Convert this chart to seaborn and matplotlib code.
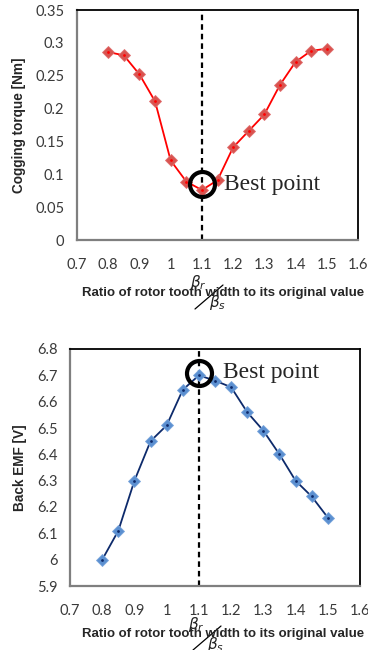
import matplotlib
matplotlib.use("Agg")
import matplotlib.pyplot as plt
import seaborn as sns
import pandas as pd
from matplotlib.lines import Line2D

ratio = [0.8, 0.85, 0.9, 0.95, 1.0, 1.05, 1.1, 1.15, 1.2, 1.25, 1.3, 1.35, 1.4, 1.45, 1.5]
cogging = [0.286, 0.281, 0.252, 0.211, 0.121, 0.089, 0.076, 0.091, 0.141, 0.166, 0.191, 0.236, 0.271, 0.288, 0.291]
emf = [6.00, 6.11, 6.30, 6.45, 6.51, 6.645, 6.70, 6.68, 6.655, 6.56, 6.49, 6.40, 6.30, 6.24, 6.16]
x_ticks = [0.7, 0.8, 0.9, 1.0, 1.1, 1.2, 1.3, 1.4, 1.5, 1.6]
x_tick_labels = ["0.7", "0.8", "0.9", "1", "1.1", "1.2", "1.3", "1.4", "1.5", "1.6"]
cog_ticks = [0, 0.05, 0.1, 0.15, 0.2, 0.25, 0.3, 0.35]
cog_tick_labels = ["0", "0.05", "0.1", "0.15", "0.2", "0.25", "0.3", "0.35"]
emf_ticks = [5.9, 6.0, 6.1, 6.2, 6.3, 6.4, 6.5, 6.6, 6.7, 6.8]
emf_tick_labels = ["5.9", "6", "6.1", "6.2", "6.3", "6.4", "6.5", "6.6", "6.7", "6.8"]
best_x = 1.1
best_cog_mark = 0.085
best_emf_mark = 6.71
xlabel_text = "Ratio of rotor tooth width to its original value"

sns.set_style("white")
plt.rcParams['font.family'] = ['Lato', 'DejaVu Sans']

W, H = 368, 650
fig = plt.figure(figsize=(W / 100, H / 100), dpi=100)

def px_axes(left, top, right, bottom):
    return fig.add_axes([left / W, 1 - bottom / H, (right - left) / W, (bottom - top) / H])

ax1 = px_axes(77, 10, 358, 240)
ax2 = px_axes(70, 349, 360, 586)

df = pd.DataFrame({"ratio": ratio, "cogging": cogging, "emf": emf})

def style(ax, yticks, ylabels, ylim, ylabel):
    ax.set_xlim(0.7, 1.6)
    ax.set_ylim(*ylim)
    ax.set_xticks(x_ticks)
    ax.set_xticklabels(x_tick_labels)
    ax.set_yticks(yticks)
    ax.set_yticklabels(ylabels)
    ax.tick_params(axis='x', length=0, pad=13, labelsize=10.5, labelcolor="#3a3a3a")
    ax.tick_params(axis='y', length=0, pad=9, labelsize=10.5, labelcolor="#3a3a3a")
    for s in ["top", "right"]:
        ax.spines[s].set_color("black")
        ax.spines[s].set_linewidth(1.3)
    for s in ["left", "bottom"]:
        ax.spines[s].set_color("#7f7f7f")
        ax.spines[s].set_linewidth(1.6)
    ax.set_xlabel("")
    ax.set_ylabel(ylabel, fontsize=9.8, fontweight="bold", family=["Liberation Sans"], labelpad=7)
    ax.axvline(best_x, color="black", linestyle=(0, (2.5, 1.8)), linewidth=1.6, zorder=1)

# top chart
sns.lineplot(data=df, x="ratio", y="cogging", ax=ax1, color="#ff0000", linewidth=1.3,
             marker="D", markersize=6, markerfacecolor="#d9534f", markeredgecolor="#e07070",
             markeredgewidth=0.6, zorder=3)
sns.scatterplot(data=df, x="ratio", y="cogging", ax=ax1, color="#ff0000", s=4, linewidth=0, zorder=4)
style(ax1, cog_ticks, cog_tick_labels, (0, 0.35), "Cogging torque [Nm]")
ax1.plot([best_x], [best_cog_mark], marker="o", markersize=18, markerfacecolor="none",
         markeredgecolor="black", markeredgewidth=3, zorder=5)
ax1.text(1.172, best_cog_mark, "Best point", fontsize=17, family=["Liberation Serif"],
         va="center", ha="left")

# bottom chart
sns.lineplot(data=df, x="ratio", y="emf", ax=ax2, color="#0d2a6b", linewidth=1.3,
             marker="D", markersize=6, markerfacecolor="#5b8fd0", markeredgecolor="#7aa6dc",
             markeredgewidth=0.6, zorder=3)
sns.scatterplot(data=df, x="ratio", y="emf", ax=ax2, color="#0d2a6b", s=4, linewidth=0, zorder=4)
style(ax2, emf_ticks, emf_tick_labels, (5.9, 6.8), "Back EMF [V]")
ax2.plot([best_x], [best_emf_mark], marker="o", markersize=18, markerfacecolor="none",
         markeredgecolor="black", markeredgewidth=3, zorder=5)
ax2.text(1.176, best_emf_mark, "Best point", fontsize=17, family=["Liberation Serif"],
         va="center", ha="left")

def xlabel(cy, beta_x):
    fig.text(223 / W, 1 - cy / H, xlabel_text, fontsize=9.5, fontweight="bold",
             family=["Liberation Sans"], ha="center", va="center")
    fig.text(beta_x / W, 1 - (cy - 10) / H, r"$\beta_r$", fontsize=11, color="#222222",
             ha="center", va="center", family=["DejaVu Serif"])
    fig.text((beta_x + 20) / W, 1 - (cy + 10) / H, r"$\beta_s$", fontsize=11, color="#222222",
             ha="center", va="center", family=["DejaVu Serif"])
    fig.add_artist(Line2D([(beta_x - 3) / W, (beta_x + 25) / W],
                          [1 - (cy + 16) / H, 1 - (cy - 8) / H],
                          transform=fig.transFigure, color="black", linewidth=0.9))

xlabel(293, 198)
xlabel(634, 196)

fig.savefig("out.png", dpi=100)
